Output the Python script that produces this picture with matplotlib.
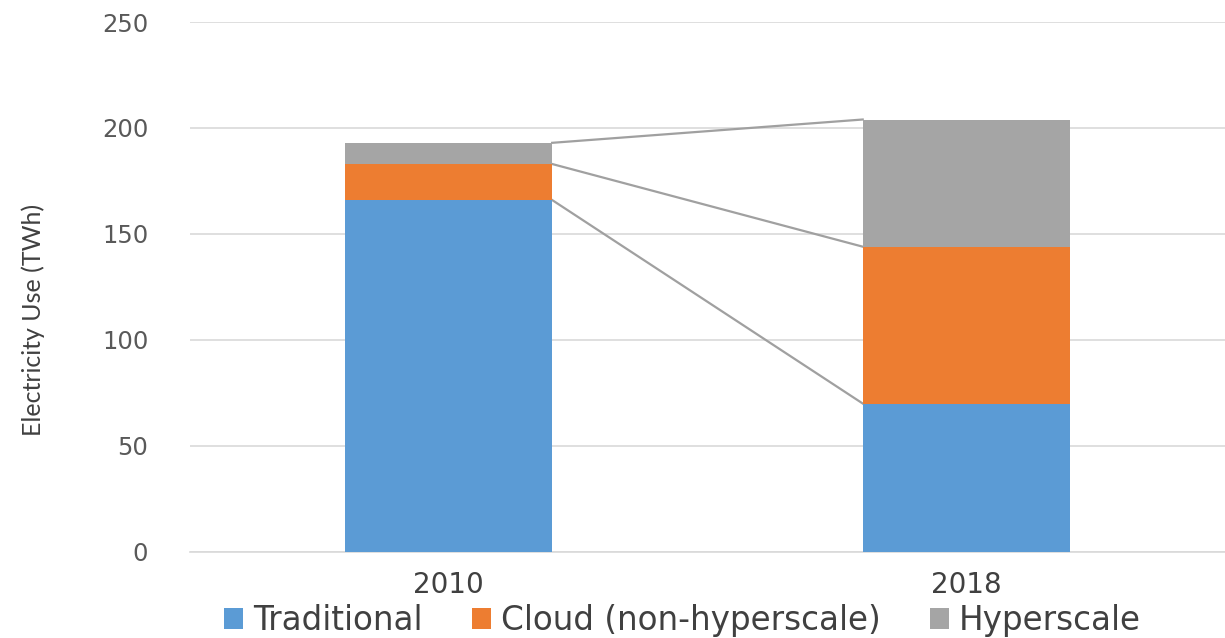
import matplotlib
matplotlib.use("Agg")
from matplotlib import pyplot as plt
import numpy as np

years = ["2010", "2018"]
traditional = [166, 70]
cloud = [17, 74]
hyperscale = [10, 60]

series_names = ["Traditional", "Cloud (non-hyperscale)", "Hyperscale"]
colors = ["#5B9BD5", "#ED7D31", "#A5A5A5"]
yticks = [0, 50, 100, 150, 200, 250]

plt.rcParams['font.family'] = ['DejaVu Sans']

fig = plt.figure(figsize=(12.25, 6.38), dpi=100)
ax = fig.add_axes([0.155, 0.135, 0.845, 0.8305])

x = np.arange(len(years))
w = 0.4
bottom = np.zeros(len(years))
tops = []
for vals, name, c in zip([traditional, cloud, hyperscale], series_names, colors):
    ax.bar(x, vals, w, bottom=bottom, color=c, label=name, zorder=3)
    bottom = bottom + np.array(vals)
    tops.append(bottom.copy())

# connector lines between the stacks
for t in tops:
    ax.plot([x[0] + w / 2, x[1] - w / 2], [t[0], t[1]], color="#a0a0a0", lw=1.6, zorder=2)

ax.set_xlim(-0.5, 1.5)
ax.set_ylim(0, 250)
ax.set_yticks(yticks)
ax.set_yticklabels([str(v) for v in yticks], fontsize=17.5, color="#595959")
ax.tick_params(axis='y', length=0, pad=30)
ax.set_xticks(x)
ax.set_xticklabels(years, fontsize=20, color="#404040")
ax.tick_params(axis='x', length=0, pad=14)
ax.yaxis.grid(True, color="#d9d9d9", lw=1.2, zorder=0)
for s in ["left", "right", "top"]:
    ax.spines[s].set_visible(False)
ax.spines["bottom"].set_color("#d9d9d9")
ax.spines["bottom"].set_linewidth(1.2)

fig.text(0.027, 0.498, "Electricity Use (TWh)", rotation=90, va="center", ha="center",
         fontsize=18, color="#404040", family=['Lato', 'DejaVu Sans'])

leg = fig.legend(loc="center", bbox_to_anchor=(0.557, 0.027), ncol=3, frameon=False,
                 fontsize=23.5, handlelength=0.6, handleheight=0.6, handletextpad=0.3,
                 columnspacing=1.5, labelcolor="#404040", borderpad=0)

fig.savefig("out.png", dpi=100)
